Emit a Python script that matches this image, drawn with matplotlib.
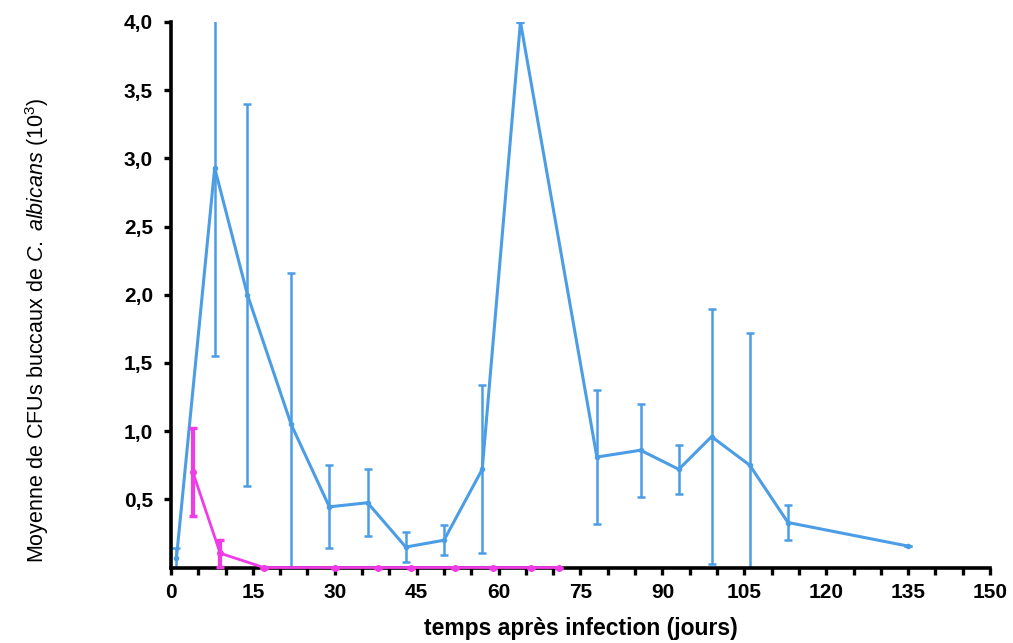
import matplotlib
matplotlib.use("Agg")
import matplotlib.pyplot as plt
from matplotlib.ticker import MultipleLocator

plt.rcParams['font.family'] = ['Liberation Sans', 'DejaVu Sans']
plt.rcParams['mathtext.fontset'] = 'custom'
plt.rcParams['mathtext.rm'] = 'Liberation Sans'
plt.rcParams['mathtext.it'] = 'Liberation Sans:italic'

# infected group (blue): day, mean, SD
blue_days = [1, 8, 14, 22, 29, 36, 43, 50, 57, 64, 78, 86, 93, 99, 106, 113, 135]
blue_mean = [0.07, 2.93, 2.0, 1.05, 0.445, 0.475, 0.15, 0.2, 0.72, 4.0,
             0.81, 0.86, 0.72, 0.96, 0.75, 0.33, 0.157]
blue_sd = [0.07, 1.38, 1.4, 1.11, 0.305, 0.245, 0.11, 0.11, 0.615, 0.0,
           0.49, 0.34, 0.18, 0.935, 0.97, 0.13, 0.0]

# second group (magenta)
pink_days = [4, 9, 17, 30, 38, 44, 52, 59, 66, 71]
pink_mean = [0.70, 0.105, 0, 0, 0, 0, 0, 0, 0, 0]
pink_sd = [0.32, 0.10, 0, 0, 0, 0, 0, 0, 0, 0]

x_ticks = [0, 15, 30, 45, 60, 75, 90, 105, 120, 135, 150]
y_ticks = [0.5, 1.0, 1.5, 2.0, 2.5, 3.0, 3.5, 4.0]
y_labels = ['0,5', '1,0', '1,5', '2,0', '2,5', '3,0', '3,5', '4,0']

blue = '#4b9de6'
pink = '#f03ce6'

fig = plt.figure(figsize=(10.13, 6.43), dpi=100)
ax = fig.add_axes([0.1688, 0.1174, 0.8085, 0.8484])

ax.errorbar(blue_days, blue_mean, yerr=blue_sd, color=blue, lw=2.2,
            elinewidth=1.8, capsize=3, capthick=1.8, marker='o', ms=3,
            zorder=3)
ax.errorbar(pink_days, pink_mean, yerr=pink_sd, color=pink, lw=2.0,
            elinewidth=3.0, capsize=3, capthick=2.5, marker='o', ms=4,
            zorder=5, clip_on=False)

ax.set_xlim(0, 150)
ax.set_ylim(0, 4)
ax.set_xticks(x_ticks)
ax.xaxis.set_minor_locator(MultipleLocator(5))
ax.set_yticks(y_ticks)
ax.set_yticklabels(y_labels)

for s in ['top', 'right']:
    ax.spines[s].set_visible(False)
for s in ['left', 'bottom']:
    ax.spines[s].set_linewidth(2.6)
    ax.spines[s].set_zorder(4)

ax.tick_params(which='major', length=5, width=2.4, labelsize=15, pad=6)
ax.tick_params(axis='y', which='major', pad=8)
ax.tick_params(which='minor', length=5, width=2.4)
for lab in ax.get_xticklabels() + ax.get_yticklabels():
    lab.set_fontweight('bold')

ax.set_xlabel('temps après infection (jours)', fontsize=16.5, fontweight='bold',
              labelpad=11)
ax.set_ylabel(r'Moyenne de CFUs buccaux de $\mathit{C.\ albicans}$ (10$^3$)',
              fontsize=15.5)
ax.yaxis.set_label_coords(-0.146, 0.435)

fig.savefig('out.png', dpi=100)
